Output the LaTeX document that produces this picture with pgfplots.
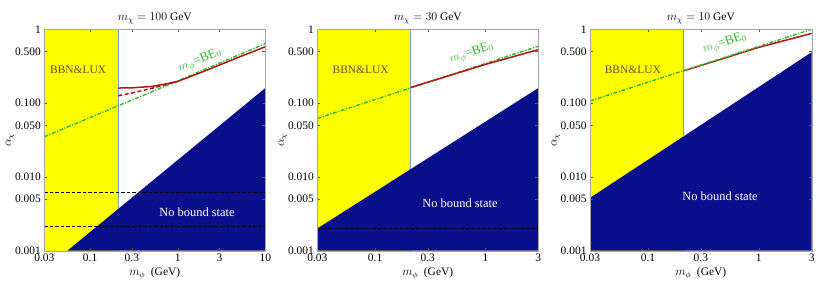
\documentclass[border=0pt]{standalone}
\usepackage{fontspec}
\setmainfont{Liberation Serif}
\usepackage{pgfplots}
\pgfplotsset{compat=1.18}
\definecolor{nbblue}{RGB}{10,16,140}
\definecolor{bbnyel}{RGB}{255,255,0}
\definecolor{edgeblue}{RGB}{120,155,215}
\definecolor{bbntext}{RGB}{105,80,30}
\definecolor{begreen}{RGB}{45,185,45}
\definecolor{redline}{RGB}{180,20,20}
\tikzset{
  greenls/.style={begreen, line width=1.4bp, dash pattern=on 4bp off 1.5bp on 1.2bp off 1.5bp},
  redls/.style={redline, line width=1.5bp},
  reddash/.style={redline, line width=1.5bp, dash pattern=on 4bp off 2.5bp},
  blackdash/.style={black, line width=1.1bp, dash pattern=on 3.5bp off 2bp},
  belabel/.style={begreen, font=\fontsize{13}{15}\selectfont},
}
\begin{document}
\begin{tikzpicture}
\path[use as bounding box] (0,0) rectangle (830bp,292bp);
% Panel 1
\begin{axis}[xmode=log, ymode=log, scale only axis, width=221bp, height=221.4bp,
  anchor=south west, at={(44.3bp,41.3bp)},
  xmin=0.03, xmax=10, ymin=0.001, ymax=1,
  ytick={0.001,0.005,0.01,0.05,0.1,0.5,1},
  yticklabels={0.001,0.005,0.010,0.050,0.100,0.500,1},
  xtick={0.03,0.1,0.3,1,3,10}, xticklabels={0.03,0.1,0.3,1,3,10},
  font=\fontsize{11.5}{13}\selectfont,
  axis line style={gray!70}, tick style={gray!70!black},
  major tick length=3bp, minor tick length=1.5bp, tick align=inside,
  xlabel={$m_\phi$\ \ (GeV)}, ylabel={$\alpha_\chi$},
  xlabel style={yshift=1bp}, ylabel style={yshift=-6bp}, title style={yshift=-4bp},
  axis on top,
  title={$m_\chi = 100$ GeV}]
\addplot[fill=bbnyel, draw=none] coordinates {(0.03,0.001) (0.21,0.001) (0.21,1) (0.03,1)} -- cycle;
\addplot[edgeblue, line width=0.9bp] coordinates {(0.21,0.001) (0.21,1)};
\addplot[fill=nbblue, draw=none] coordinates {(0.055,0.001) (10,0.16) (10,0.001)} -- cycle;
\addplot[blackdash] coordinates {(0.03,0.0062) (10,0.0062)};
\addplot[blackdash] coordinates {(0.03,0.0021) (10,0.0021)};
\addplot[greenls] coordinates {(0.03,0.035) (1,0.2) (10,0.64)};
\addplot[reddash] coordinates {(0.21,0.126) (0.3,0.137) (0.5,0.158) (0.7,0.176) (0.9,0.19) (1,0.196)};
\addplot[redls] coordinates {(0.21,0.16) (0.3,0.161) (0.5,0.168) (0.7,0.18) (1,0.197) (2,0.27) (5,0.42) (10,0.58)};
\node[bbntext] at (axis cs:0.073,0.28) {BBN\&LUX};
\node[white, font=\fontsize{12.5}{14}\selectfont] at (axis cs:1.66,0.00332) {No bound state};
\node[belabel, rotate=22] at (axis cs:1.8,0.375) {$m_\phi$=BE$_0$};
\end{axis}
% Panel 2
\begin{axis}[xmode=log, ymode=log, scale only axis, width=221bp, height=221.4bp,
  anchor=south west, at={(317.3bp,41.3bp)},
  xmin=0.03, xmax=3, ymin=0.001, ymax=1,
  ytick={0.001,0.005,0.01,0.05,0.1,0.5,1},
  yticklabels={0.001,0.005,0.010,0.050,0.100,0.500,1},
  xtick={0.03,0.1,0.3,1,3}, xticklabels={0.03,0.1,0.3,1,3},
  font=\fontsize{11.5}{13}\selectfont,
  axis line style={gray!70}, tick style={gray!70!black},
  major tick length=3bp, minor tick length=1.5bp, tick align=inside,
  xlabel={$m_\phi$\ \ (GeV)}, ylabel={$\alpha_\chi$},
  xlabel style={yshift=1bp}, ylabel style={yshift=-6bp}, title style={yshift=-4bp},
  axis on top,
  title={$m_\chi = 30$ GeV}]
\addplot[fill=bbnyel, draw=none] coordinates {(0.03,0.001) (0.21,0.001) (0.21,1) (0.03,1)} -- cycle;
\addplot[edgeblue, line width=0.9bp] coordinates {(0.21,0.001) (0.21,1)};
\addplot[fill=nbblue, draw=none] coordinates {(0.03,0.001) (0.03,0.002) (3,0.16) (3,0.001)} -- cycle;
\addplot[blackdash] coordinates {(0.03,0.002) (3,0.002)};
\addplot[greenls] coordinates {(0.03,0.062) (3,0.59)};
\addplot[redls] coordinates {(0.21,0.163) (0.5,0.243) (1,0.335) (3,0.53)};
\node[bbntext] at (axis cs:0.074,0.28) {BBN\&LUX};
\node[white, font=\fontsize{12.5}{14}\selectfont] at (axis cs:0.587,0.0044) {No bound state};
\node[belabel, rotate=18] at (axis cs:0.75,0.47) {$m_\phi$=BE$_0$};
\end{axis}
% Panel 3
\begin{axis}[xmode=log, ymode=log, scale only axis, width=221.7bp, height=221.4bp,
  anchor=south west, at={(590bp,41.3bp)},
  xmin=0.03, xmax=3, ymin=0.001, ymax=1,
  ytick={0.001,0.005,0.01,0.05,0.1,0.5,1},
  yticklabels={0.001,0.005,0.010,0.050,0.100,0.500,1},
  xtick={0.03,0.1,0.3,1,3}, xticklabels={0.03,0.1,0.3,1,3},
  font=\fontsize{11.5}{13}\selectfont,
  axis line style={gray!70}, tick style={gray!70!black},
  major tick length=3bp, minor tick length=1.5bp, tick align=inside,
  xlabel={$m_\phi$\ \ (GeV)}, ylabel={$\alpha_\chi$},
  xlabel style={yshift=1bp}, ylabel style={yshift=-6bp}, title style={yshift=-4bp},
  axis on top,
  title={$m_\chi = 10$ GeV}]
\addplot[fill=bbnyel, draw=none] coordinates {(0.03,0.001) (0.21,0.001) (0.21,1) (0.03,1)} -- cycle;
\addplot[edgeblue, line width=0.9bp] coordinates {(0.21,0.001) (0.21,1)};
\addplot[fill=nbblue, draw=none] coordinates {(0.03,0.001) (0.03,0.0052) (3,0.49) (3,0.001)} -- cycle;
\addplot[redls] coordinates {(0.21,0.274) (0.5,0.41) (1,0.57) (3,0.88)};
\addplot[greenls] coordinates {(0.03,0.107) (3,1.0)};
\node[bbntext] at (axis cs:0.073,0.28) {BBN\&LUX};
\node[white, font=\fontsize{12.5}{14}\selectfont] at (axis cs:0.447,0.00547) {No bound state};
\node[belabel, rotate=18] at (axis cs:0.495,0.64) {$m_\phi$=BE$_0$};
\end{axis}
\end{tikzpicture}
\end{document}
